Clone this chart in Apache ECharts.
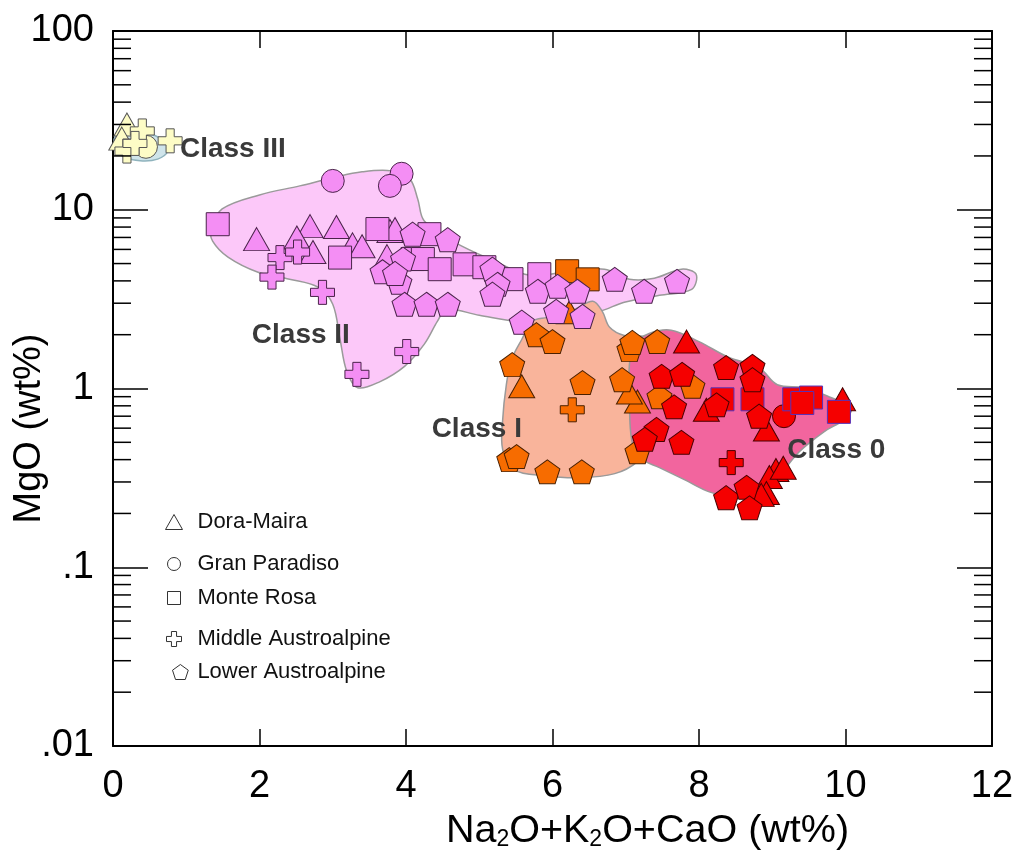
<!DOCTYPE html>
<html><head><meta charset="utf-8">
<script src="https://cdn.jsdelivr.net/npm/echarts@6/dist/echarts.min.js"></script>
<style>html,body{margin:0;padding:0;background:#fff}#c{width:1017px;height:856px}</style>
</head><body><div id="c"></div>
<script>
// ---- axes ----
const xMin = 0, xMax = 12, xInterval = 2;
const yTickValues = [0.01, 0.1, 1, 10, 100];
const yTickLabels = ['.01', '.1', '1', '10', '100'];
const yMinorTicks = [0.02,0.03,0.04,0.05,0.06,0.07,0.08,0.09,
  0.2,0.3,0.4,0.5,0.6,0.7,0.8,0.9, 2,3,4,5,6,7,8,9, 20,30,40,50,60,70,80,90];

// ---- class fields (vertices, data coordinates) ----
const classIIIRegion = [[0.03,25.6],[0.20,27.6],[0.50,26.6],[0.71,24.0],[0.75,21.3],[0.61,19.2],[0.37,18.8],[0.15,19.8],[0.03,21.9]];
const classIIRegion = [[1.34,7.8],[1.49,10.1],[2.00,12.1],[2.55,13.6],[3.00,15.1],[3.40,16.3],[3.80,16.5],[4.05,14.9],[4.16,11.5],[4.25,8.64],
  [4.66,6.59],[5.21,5.16],[5.69,4.30],[6.23,4.53],[6.71,4.65],[7.05,4.09],[7.39,4.14],[7.76,4.65],[7.96,4.36],[7.90,3.59],[7.46,3.32],
  [6.98,3.04],[6.64,2.70],[6.10,2.50],[5.55,2.38],[5.00,2.57],[4.55,2.77],[4.43,2.38],[4.25,1.77],[3.98,1.33],[3.64,1.09],[3.34,1.01],
  [3.19,1.25],[3.10,1.88],[3.00,2.96],[2.80,3.69],[2.41,4.09],[1.98,4.47],[1.57,5.43],[1.36,6.67]];
const classIRegion = [[5.73,2.38],[5.93,2.50],[6.30,2.77],[6.55,3.08],[6.68,2.70],[6.78,2.20],[6.98,1.98],[7.25,1.96],[7.49,1.88],[7.46,1.45],
  [7.53,0.99],[7.54,0.715],[7.39,0.518],[7.16,0.390],[6.85,0.334],[6.37,0.317],[5.89,0.325],[5.48,0.351],[5.32,0.455],[5.32,0.670],
  [5.37,1.05],[5.44,1.45],[5.58,1.88]];
const class0Region = [[7.12,1.77],[7.32,2.03],[7.62,2.12],[8.00,1.83],[8.41,1.49],[8.82,1.31],[9.07,1.05],[9.44,1.01],[9.80,0.89],[10.08,0.78],
  [9.98,0.67],[9.71,0.574],[9.37,0.443],[9.10,0.330],[8.82,0.271],[8.48,0.248],[8.14,0.264],[7.80,0.309],[7.46,0.361],[7.19,0.410],
  [7.08,0.518],[7.05,0.868],[7.05,1.36]];

// ---- samples: [Na2O+K2O+CaO, MgO, class(0..3)] ----
const doraMaira = [[0.19,30,3],[0.12,25,3],
  [1.96,6.85,2],[2.69,8.1,2],[3.05,8.0,2],[2.51,7.0,2],[2.73,5.8,2],[3.27,6.4,2],[3.40,6.25,2],[3.78,7.6,2],[3.74,5.5,2],[3.85,7.8,2],
  [6.23,2.67,1],[5.58,1.03,1],[7.16,0.845,1],[7.05,0.95,1],
  [7.83,1.83,0],[9.96,0.87,0],[8.92,0.59,0],[9.05,0.35,0],[8.96,0.32,0],[8.92,0.26,0],[8.85,0.254,0],[9.15,0.36,0],[8.10,0.76,0]];
const granParadiso = [[0.45,22.5,3],[3.0,14.5,2],[3.94,15.9,2],[3.78,13.6,2],[9.16,0.70,0]];
const monteRosa = [[1.43,8.3,2],[3.10,5.4,2],[3.61,7.8,2],[4.32,7.3,2],[4.09,5.3,2],[4.23,5.3,2],[4.46,4.65,2],[4.80,4.95,2],[5.07,4.77,2],[5.44,4.09,2],[5.82,4.36,2],
  [6.20,4.53,1],[6.48,4.08,1],
  [8.32,0.87,0],[8.73,0.87,0],[9.30,0.87,0],[9.53,0.89,0],[9.41,0.83,0],[9.91,0.74,0]];
const middleAustroalpine = [[0.40,27.6,3],[0.78,24.3,3],[0.19,21.3,3],[0.30,23.5,3],
  [2.28,5.4,2],[2.52,5.8,2],[2.17,4.2,2],[2.86,3.45,2],[4.01,1.61,2],[3.33,1.2,2],
  [6.27,0.76,1],[8.44,0.385,0]];
const lowerAustroalpine = [[4.09,7.3,2],[4.57,6.8,2],[3.68,4.5,2],[3.96,5.3,2],[3.91,3.93,2],[3.98,2.96,2],[4.28,2.96,2],[4.57,2.96,2],[5.18,4.65,2],[5.25,3.83,2],
  [5.18,3.37,2],[5.80,3.5,2],[6.07,3.73,2],[6.34,3.5,2],[6.85,4.08,2],[7.25,3.5,2],[7.70,3.98,2],[6.05,2.7,2],[6.41,2.53,2],[5.58,2.35,2],[3.85,4.4,2],
  [5.78,2.0,1],[6.0,1.83,1],[5.45,1.36,1],[6.41,1.08,1],[5.41,0.40,1],[5.51,0.416,1],[5.93,0.342,1],[6.40,0.342,1],[7.05,1.65,1],[7.09,1.81,1],
  [7.43,1.83,1],[6.95,1.12,1],[7.46,0.9,1],[7.91,1.03,1],[7.16,0.443,1],
  [7.49,1.17,0],[7.77,1.2,0],[7.66,0.79,0],[7.42,0.59,0],[7.76,0.5,0],[7.26,0.52,0],[8.37,1.31,0],[8.73,1.33,0],[8.73,1.12,0],[8.24,0.81,0],
  [8.82,0.70,0],[8.37,0.245,0],[8.65,0.28,0],[8.69,0.215,0]];

// ---- class labels (anchor = left-middle of text) ----
const classNames = ['Class III', 'Class II', 'Class I', 'Class 0'];
const classLabelAt = [[0.914,21.9],[1.895,1.98],[4.35,0.589],[9.205,0.449]];

const FONT = '"Liberation Sans", Arial, Helvetica, sans-serif';
const classFill = ['#f50000', '#f76c00', '#f48ef4', '#fdfcc6'];
const classBorder = ['#4a0000', '#4a2000', '#4a234a', '#555555'];
const regionFill = {c3:'#cfe4ea', c2:'#fcc8f9', c1:'#f9b49b', c0:'#f2659e'};

const PENTAGON = 'path://M50,0 L97.6,34.5 L79.4,90.5 L20.6,90.5 L2.4,34.5 Z';
const CROSS = 'path://M33,0 H67 V33 H100 V67 H67 V100 H33 V67 H0 V33 H33 Z';

function items(arr, squareBlue) {
  return arr.map(d => ({
    value: [d[0], d[1]],
    itemStyle: {color: classFill[d[2]], borderColor: (squareBlue && d[2] === 0) ? '#5533bb' : classBorder[d[2]], borderWidth: 1, opacity: 1}
  }));
}

const regions = [
  {pts: classIIRegion, fill: regionFill.c2, stroke: '#9a9a9a', blend: null},
  {pts: classIIIRegion, fill: regionFill.c3, stroke: '#8fb3bd', blend: null},
  {pts: classIRegion, fill: regionFill.c1, stroke: '#9a9a9a', blend: null},
  {pts: class0Region, fill: regionFill.c0, stroke: '#9a9a9a', blend: 'multiply'}
];

const chart = echarts.init(document.getElementById('c'), null, {renderer: 'canvas'});
const axisLine = {show: true, onZero: false, lineStyle: {color: '#000', width: 2}};

function legendFor(name, top, left, w, h) {
  return {
    data: [name], orient: 'vertical', left: left, top: top, padding: 0,
    itemWidth: w, itemHeight: h, selectedMode: false,
    itemStyle: {color: '#ffffff', borderColor: '#333', borderWidth: 1, opacity: 1},
    textStyle: {fontFamily: FONT, fontSize: 22, color: '#111', padding: [0, 0, 0, 197 - left - w - 5]}
  };
}

const scatterBase = {type: 'scatter', z: 3, itemStyle: {opacity: 1}, emphasis: {disabled: true}};

chart.setOption({
  animation: false,
  backgroundColor: '#fff',
  grid: {left: 113, right: 25, top: 31, bottom: 110, containLabel: false, outerBoundsMode: 'none'},
  legend: [
    legendFor('Dora-Maira', 511, 165, 17, 15),
    legendFor('Gran Paradiso', 553, 167, 13, 13),
    legendFor('Monte Rosa', 587, 167, 13, 13),
    legendFor('Middle Austroalpine', 628, 166, 15, 15),
    legendFor('Lower Austroalpine', 661, 172, 16, 15)
  ],
  xAxis: [{
    type: 'value', min: xMin, max: xMax, interval: xInterval, position: 'bottom',
    axisLine: axisLine,
    axisTick: {inside: true, length: 17, lineStyle: {color: '#000', width: 1.5}},
    axisLabel: {fontFamily: FONT, fontSize: 38, color: '#000', margin: 22},
    splitLine: {show: false},
    name: 'Na{s|2}O+K{s|2}O+CaO (wt%)', nameLocation: 'middle', nameGap: 58,
    nameTextStyle: {fontFamily: FONT, fontSize: 39.5, color: '#000', padding: [0, 0, 0, 190],
      rich: {s: {fontFamily: FONT, fontSize: 23, color: '#000', verticalAlign: 'bottom', lineHeight: 23}}}
  }, {
    type: 'value', min: xMin, max: xMax, interval: xInterval, position: 'top',
    axisLine: axisLine,
    axisTick: {inside: true, length: 17, lineStyle: {color: '#000', width: 1.5}},
    axisLabel: {show: false}, splitLine: {show: false}
  }],
  yAxis: [{
    type: 'log', logBase: 10, min: 0.01, max: 100, position: 'left',
    axisLine: axisLine,
    axisTick: {inside: true, length: 35, lineStyle: {color: '#000', width: 1.5}},
    axisLabel: {fontFamily: FONT, fontSize: 38, color: '#000', margin: 19,
      formatter: v => { const i = yTickValues.findIndex(t => Math.abs(Math.log10(t) - Math.log10(v)) < 1e-6); return i >= 0 ? yTickLabels[i] : ''; }},
    splitLine: {show: false}, minorTick: {show: false},
    name: 'MgO (wt%)', nameLocation: 'middle', nameRotate: 90, nameGap: 64, nameMoveOverlap: false,
    nameTextStyle: {fontFamily: FONT, fontSize: 38, color: '#000', padding: [0, 80, 0, 0]}
  }, {
    type: 'log', logBase: 10, min: 0.01, max: 100, position: 'right',
    axisLine: axisLine,
    axisTick: {inside: true, length: 35, lineStyle: {color: '#000', width: 1.5}},
    axisLabel: {show: false}, splitLine: {show: false}
  }],
  series: [
    {
      type: 'custom', name: 'fields', z: 1, silent: true,
      data: regions.map((r, i) => [i]),
      encode: {x: -1, y: -1},
      renderItem: (params, api) => {
        const r = regions[params.dataIndex];
        const pts = r.pts.map(p => api.coord(p));
        const style = {fill: r.fill, stroke: r.stroke, lineWidth: 1.5};
        if (r.blend) style.blend = r.blend;
        return {type: 'polygon', shape: {points: pts, smooth: 0.35}, style: style};
      }
    },
    {
      type: 'custom', name: 'minorTicks', z: 5, silent: true,
      data: yMinorTicks.map(v => [xMin, v]),
      renderItem: (params, api) => {
        const v = api.value(1);
        const l = api.coord([xMin, v]);
        const r = api.coord([xMax, v]);
        return {type: 'group', children: [
          {type: 'line', shape: {x1: l[0], y1: l[1], x2: l[0] + 18, y2: l[1]}, style: {stroke: '#000', lineWidth: 1.5}},
          {type: 'line', shape: {x1: r[0] - 18, y1: r[1], x2: r[0], y2: r[1]}, style: {stroke: '#000', lineWidth: 1.5}}
        ]};
      }
    },
    Object.assign({}, scatterBase, {name: 'Dora-Maira', symbol: 'triangle', symbolSize: [26, 23], data: items(doraMaira)}),
    Object.assign({}, scatterBase, {name: 'Gran Paradiso', symbol: 'circle', symbolSize: 23, data: items(granParadiso)}),
    Object.assign({}, scatterBase, {name: 'Monte Rosa', symbol: 'rect', symbolSize: 23, data: items(monteRosa, true)}),
    Object.assign({}, scatterBase, {name: 'Middle Austroalpine', symbol: CROSS, symbolSize: 24, data: items(middleAustroalpine)}),
    Object.assign({}, scatterBase, {name: 'Lower Austroalpine', symbol: PENTAGON, symbolSize: [25, 24], data: items(lowerAustroalpine)}),
    {
      type: 'scatter', name: 'classLabels', symbolSize: 0, z: 4, silent: true,
      itemStyle: {opacity: 1},
      data: classLabelAt.map((p, i) => ({value: p, name: classNames[i]})),
      label: {show: true, position: 'right', distance: 0, formatter: p => p.name, opacity: 1,
        fontFamily: FONT, fontSize: 28, fontWeight: 'bold', color: '#3a3a3a', align: 'left', verticalAlign: 'middle'}
    }
  ]
});
</script></body></html>
